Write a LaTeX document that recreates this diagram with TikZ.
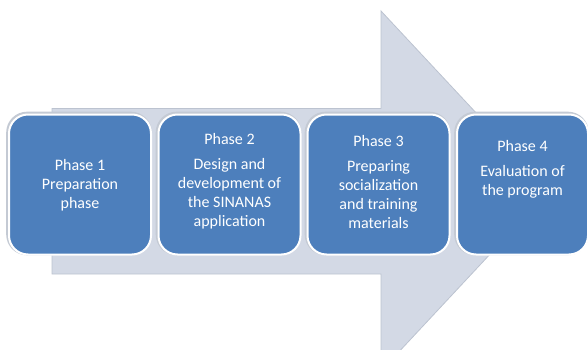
\documentclass[tikz,border=0pt]{standalone}
\usepackage{fontspec}
\setmainfont{Carlito}
\definecolor{arrowfill}{HTML}{D3D9E5}
\definecolor{arrowline}{HTML}{BCC3D0}
\definecolor{boxfill}{HTML}{4D7FBC}
\definecolor{boxshadow}{HTML}{C4CAD4}
\tikzset{
  phasebox/.style={draw=white, line width=2pt, fill=boxfill, rounded corners=19pt,
    minimum height=140pt, inner sep=0pt, anchor=north west},
  phasetext/.style={text=white, font=\fontsize{16}{19}\selectfont, align=center, inner sep=0pt},
}
\begin{document}
\begin{tikzpicture}[x=1pt,y=-1pt]
\useasboundingbox (0,0) rectangle (588,350);
\clip (0,0) rectangle (588,350);
% big arrow
\draw[fill=arrowfill, draw=arrowline, line width=0.8pt]
  (52,108.5) -- (381,108.5) -- (381,11) -- (549,191) -- (381,371) -- (381,274) -- (52,274) -- cycle;
% boxes (soft outline underneath)
\foreach \x/\w in {8/142, 157.5/142, 306.5/142, 456/131}{
  \draw[boxshadow, line width=3.6pt, rounded corners=19pt] (\x,113.5) rectangle ++(\w,140);
}
\node[phasebox, minimum width=142pt] (b1) at (8,113.5) {};
\node[phasebox, minimum width=142pt] (b2) at (157.5,113.5) {};
\node[phasebox, minimum width=142pt] (b3) at (306.5,113.5) {};
\node[phasebox, minimum width=131pt] (b4) at (456,113.5) {};
% texts
\node[phasetext] (t1) at ([yshift=-1pt]b1.center) {Phase 1\\Preparation\\phase};
\node[phasetext, anchor=north] (t2) at ([yshift=-20pt]b2.north) {Phase 2\\[6pt]Design and\\development of\\the SINANAS\\application};
\node[phasetext, anchor=north] (t3) at ([yshift=-21.5pt]b3.north) {Phase 3\\[6pt]Preparing\\socialization\\and training\\materials};
\node[phasetext, anchor=north] (t4) at ([yshift=-26.5pt]b4.north) {Phase 4\\[6pt]Evaluation of\\the program};
\end{tikzpicture}
\end{document}
